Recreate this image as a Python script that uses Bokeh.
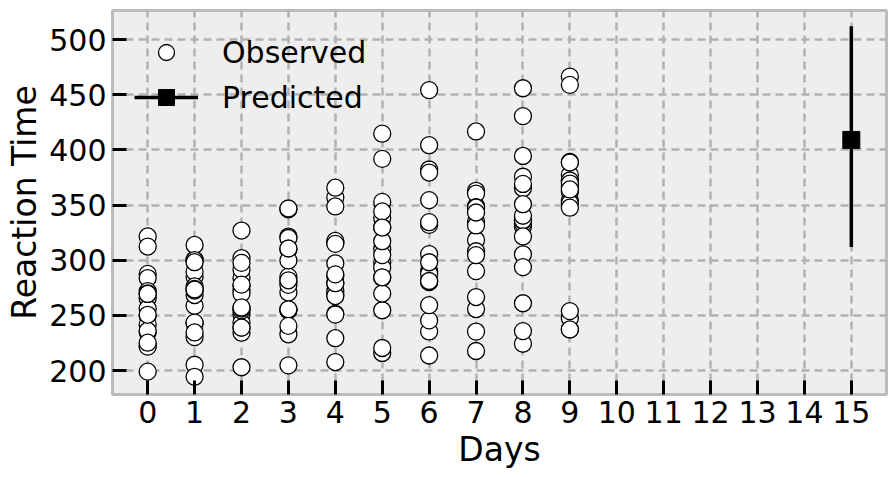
from bokeh.plotting import figure
from bokeh.models import FixedTicker, Range1d, Legend, LegendItem, ColumnDataSource
from bokeh.embed import file_html
from bokeh.resources import INLINE

# Observed reaction times per day (18 subjects)
day_0 = [249.56, 222.73, 199.05, 321.54, 287.61, 234.86, 283.84, 265.47, 241.61, 312.37, 236.10, 256.30, 250.53, 221.68, 271.92, 225.26, 269.88, 269.41]
day_1 = [258.70, 205.27, 194.33, 300.40, 285.00, 242.81, 289.56, 276.20, 273.95, 313.81, 230.32, 243.45, 300.06, 298.19, 268.44, 234.52, 272.44, 273.47]
day_2 = [250.80, 202.98, 234.32, 283.86, 301.82, 272.96, 276.77, 243.36, 254.49, 291.61, 238.93, 256.20, 269.89, 326.88, 257.24, 238.90, 277.90, 297.60]
day_3 = [321.44, 204.71, 232.84, 285.13, 320.12, 309.77, 299.81, 254.67, 270.80, 346.12, 254.92, 255.53, 280.59, 346.86, 277.66, 240.47, 281.79, 310.63]
day_4 = [356.85, 207.72, 229.31, 285.80, 316.28, 317.46, 297.17, 279.02, 251.45, 365.73, 250.71, 268.92, 271.83, 348.74, 314.82, 267.54, 279.17, 287.17]
day_5 = [414.69, 215.96, 220.46, 297.59, 293.32, 310.00, 338.17, 284.19, 254.64, 391.84, 269.77, 329.72, 304.63, 352.83, 317.21, 344.19, 284.51, 329.61]
day_6 = [382.20, 213.63, 235.42, 280.24, 290.08, 454.16, 332.03, 305.52, 245.45, 404.26, 281.56, 379.44, 287.75, 354.43, 298.14, 281.15, 259.27, 334.48]
day_7 = [290.15, 217.73, 255.75, 318.26, 334.82, 346.83, 348.84, 331.52, 235.31, 416.69, 308.10, 362.92, 266.60, 360.43, 348.12, 347.59, 304.63, 343.22]
day_8 = [430.59, 224.30, 261.01, 305.35, 293.75, 330.30, 333.36, 335.75, 235.75, 455.86, 336.28, 394.49, 321.54, 375.64, 340.28, 365.16, 350.78, 369.14]
day_9 = [466.35, 237.31, 247.52, 354.05, 371.58, 253.86, 362.04, 377.30, 237.25, 458.92, 351.65, 389.05, 347.57, 388.54, 366.51, 372.23, 369.47, 364.12]
observed_by_day = [day_0, day_1, day_2, day_3, day_4, day_5, day_6, day_7, day_8, day_9]

# Prediction at day 15 with interval
pred_day = [15]
pred_mean = [409.0]
pred_low = [312.0]
pred_high = [512.0]

x_ticks = list(range(0, 16))
y_ticks = [200, 250, 300, 350, 400, 450, 500]

obs_x = []
obs_y = []
for d, vals in enumerate(observed_by_day):
    obs_x.extend([d] * len(vals))
    obs_y.extend(vals)

FONT = "DejaVu Sans"

p = figure(width=890, height=471, output_backend="svg", toolbar_location=None,
           x_range=Range1d(-0.75, 15.75), y_range=Range1d(178.3, 526.3),
           min_border_left=112, min_border_right=4, min_border_top=10, min_border_bottom=76)

p.background_fill_color = "#eeeeee"
p.border_fill_color = "white"
p.outline_line_color = "#bcbcbc"
p.outline_line_width = 3

for g in (p.xgrid[0], p.ygrid[0]):
    g.grid_line_color = "#b2b2b2"
    g.grid_line_dash = "8 5"
    g.grid_line_width = 2.5

p.xaxis.ticker = FixedTicker(ticks=x_ticks)
p.yaxis.ticker = FixedTicker(ticks=y_ticks)
for ax in (p.xaxis[0], p.yaxis[0]):
    ax.axis_line_color = "#bcbcbc"
    ax.axis_line_width = 3
    ax.major_tick_in = 14
    ax.major_tick_out = 0
    ax.major_tick_line_width = 3
    ax.major_tick_line_color = "black"
    ax.minor_tick_line_color = None
    ax.major_label_text_font = FONT
    ax.major_label_text_font_size = "30px"
    ax.major_label_text_color = "black"
    ax.axis_label_text_font = FONT
    ax.axis_label_text_font_size = "33px"
    ax.axis_label_text_font_style = "normal"
    ax.axis_label_text_color = "black"
    ax.major_label_standoff = 6

p.xaxis.axis_label = "Days"
p.yaxis.axis_label = "Reaction Time"
p.yaxis.axis_label_standoff = 2
p.xaxis.axis_label_standoff = 4

src_obs = ColumnDataSource(data=dict(x=obs_x, y=obs_y))
obs = p.scatter("x", "y", source=src_obs, marker="circle", size=17,
                fill_color="white", line_color="black", line_width=1.3)

src_pred = ColumnDataSource(data=dict(x=pred_day, y=pred_mean, lo=pred_low, hi=pred_high))
seg = p.segment(x0="x", y0="lo", x1="x", y1="hi", source=src_pred, line_color="black", line_width=3.5)
sq = p.scatter("x", "y", source=src_pred, marker="square", size=17,
               fill_color="black", line_color="black")

legend = Legend(items=[LegendItem(label="Observed", renderers=[obs]),
                       LegendItem(label="Predicted", renderers=[seg, sq])],
                location="top_left")
legend.background_fill_alpha = 0
legend.border_line_color = None
legend.label_text_font = FONT
legend.label_text_font_size = "30px"
legend.label_text_color = "black"
legend.glyph_width = 64
legend.glyph_height = 40
legend.label_standoff = 24
legend.spacing = 5
legend.padding = 13
legend.margin = 22
p.add_layout(legend)

open("out.html", "w").write(file_html(p, INLINE))
